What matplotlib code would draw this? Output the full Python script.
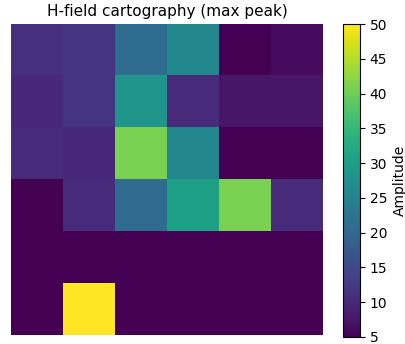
import numpy as np
import matplotlib
matplotlib.use('Agg')
import matplotlib.pyplot as plt

# peak amplitude per grid cell (rows top to bottom)
row0 = [11, 12, 21, 26, 5, 6.3]
row1 = [10, 12, 28.5, 10.5, 7.7, 7.7]
row2 = [10.5, 10, 41, 25.7, 5, 5]
row3 = [5, 10.5, 20.8, 30.5, 41, 10.5]
row4 = [5, 5, 5, 5, 5, 5]
row5 = [5, 50, 5, 5, 5, 5]
amplitude = np.array([row0, row1, row2, row3, row4, row5])

fig = plt.figure(figsize=(4.06, 3.44), dpi=100)
ax = fig.add_axes([11/406, 1 - 335/344, 312/406, 311/344])
cax = fig.add_axes([343/406, 1 - 337/344, 17/406, 313/344])

im = ax.imshow(amplitude, cmap='viridis', vmin=5, vmax=50, interpolation='nearest', aspect='auto')
ax.axis('off')
ax.set_title('H-field cartography (max peak)', fontsize=11)

cb = fig.colorbar(im, cax=cax, ticks=np.arange(5, 55, 5))
cb.set_label('Amplitude')

fig.savefig('out.png', dpi=100)
